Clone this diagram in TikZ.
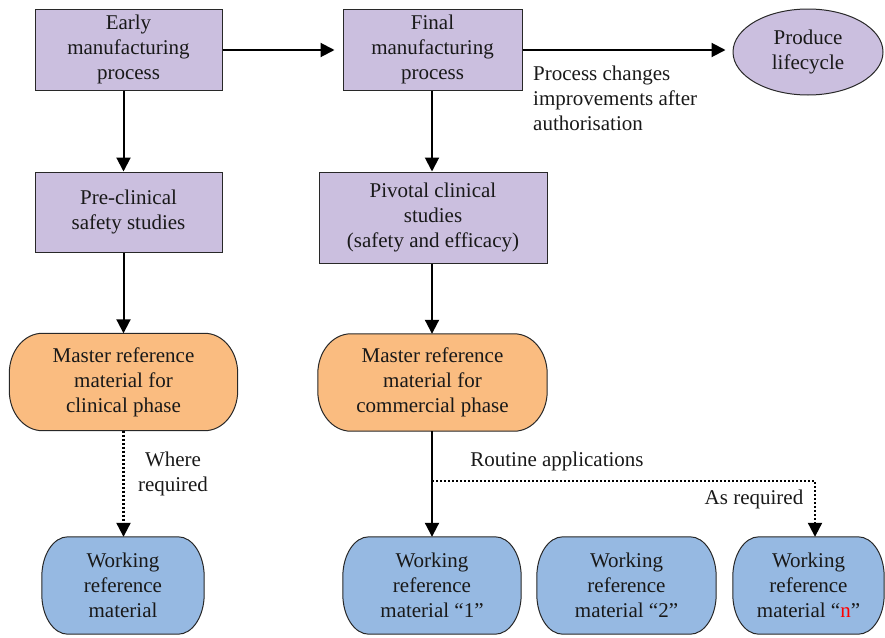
\documentclass[tikz,border=0pt]{standalone}
\usepackage{fontspec}
\setmainfont{Liberation Serif}
\newfontfamily\tnr{Liberation Serif}
\usetikzlibrary{arrows.meta,shapes.geometric}
\definecolor{purp}{RGB}{203,191,223}
\definecolor{orng}{RGB}{250,188,128}
\definecolor{blu}{RGB}{150,185,226}
\definecolor{edge}{RGB}{40,40,40}
\pgfdeclarelayer{bg}
\pgfsetlayers{bg,main}
\newcommand\stadshape[4]{% name, fill, x radius, y radius
  \begin{pgfonlayer}{bg}
  \path[draw=edge, line width=1pt, fill=#2]
    ([xshift=#3]#1.north west) -- ([xshift=-#3]#1.north east)
    arc[start angle=90, end angle=0, x radius=#3, y radius=#4]
    -- ([yshift=#4]#1.south east)
    arc[start angle=0, end angle=-90, x radius=#3, y radius=#4]
    -- ([xshift=#3]#1.south west)
    arc[start angle=270, end angle=180, x radius=#3, y radius=#4]
    -- ([yshift=-#4]#1.north west)
    arc[start angle=180, end angle=90, x radius=#3, y radius=#4] -- cycle;
  \end{pgfonlayer}}
\begin{document}
\begin{tikzpicture}[x=1pt,y=-1pt,
  every node/.style={font=\tnr\fontsize{21}{25}\selectfont, align=center, inner sep=0pt, text=black!90},
  pbox/.style={draw=edge, line width=1pt, fill=purp},
  stad/.style={},
  conn/.style={line width=2pt, -{Triangle[length=14pt,width=14pt]}},
  dconn/.style={line width=2.2pt, dash pattern=on 2pt off 2pt, -{Triangle[length=14pt,width=14pt]}},
  lbl/.style={font=\tnr\fontsize{21}{25}\selectfont}]
\useasboundingbox (0,0) rectangle (885,637);

\node[pbox, minimum width=187pt, minimum height=81pt] (early) at (128.5,49.5) {Early\\manufacturing\\process};
\node[pbox, minimum width=179pt, minimum height=81pt] (final) at (432.5,49.5) {Final\\manufacturing\\process};
\node[draw=edge, line width=1pt, fill=purp, ellipse, minimum width=150pt, minimum height=86pt] (life) at (808,52) {Produce\\lifecycle};
\node[pbox, minimum width=187pt, minimum height=80pt] (pre) at (128.5,212) {Pre-clinical\\safety studies};
\node[pbox, minimum width=228pt, minimum height=91pt] (piv) at (433,217.5) {Pivotal clinical\\studies\\(safety and efficacy)};
\node[stad, minimum width=228pt, minimum height=97pt] (mc) at (123.5,382) {Master reference\\material for\\clinical phase};
\node[stad, minimum width=229pt, minimum height=97pt] (mm) at (432.5,382.5) {Master reference\\material for\\commercial phase};
\node[stad, minimum width=162pt, minimum height=97pt] (w0) at (123,585.5) {Working\\reference\\material};
\node[stad, minimum width=178pt, minimum height=97pt] (w1) at (432,585.5) {Working\\reference\\material “1”};
\node[stad, minimum width=179pt, minimum height=97pt] (w2) at (626.5,585.5) {Working\\reference\\material “2”};
\node[stad, minimum width=151pt, minimum height=97pt] (wn) at (808.5,585.5) {Working\\reference\\material “\textcolor{red}{n}”};
\stadshape{mc}{orng}{33pt}{40pt}
\stadshape{mm}{orng}{33pt}{40pt}
\stadshape{w0}{blu}{26pt}{40pt}
\stadshape{w1}{blu}{26pt}{40pt}
\stadshape{w2}{blu}{26pt}{40pt}
\stadshape{wn}{blu}{26pt}{40pt}

\node[lbl, anchor=west, align=left] (pc) at (533,98.5) {Process changes\\improvements after\\authorisation};
\node[lbl] (wr) at (173,474) {Where\\required};
\node[lbl] (ra) at (557,461) {Routine applications};
\node[lbl] (ar) at (754,499) {As required};

\draw[conn, shorten >=8pt] (early.east |- 0,50) -- (final.west |- 0,50);
\draw[conn, shorten >=7pt] (final.east |- 0,50) -- (life.west |- 0,50);
\draw[conn] (early.south -| mc) -- (pre.north -| mc);
\draw[conn] (pre.south -| mc) -- (mc.north);
\draw[dconn] (mc.south) -- (w0.north -| mc);
\draw[conn] (final.south -| w1) -- (piv.north -| w1);
\draw[conn] (piv.south -| w1) -- (mm.north -| w1);
\draw[conn] (mm.south -| w1) -- (w1.north);
\coordinate (br) at (w1.north |- 0,481);
\coordinate (bn) at ([xshift=6.5pt]wn.north);
\draw[dconn] (br) -| (bn);
\end{tikzpicture}
\end{document}
